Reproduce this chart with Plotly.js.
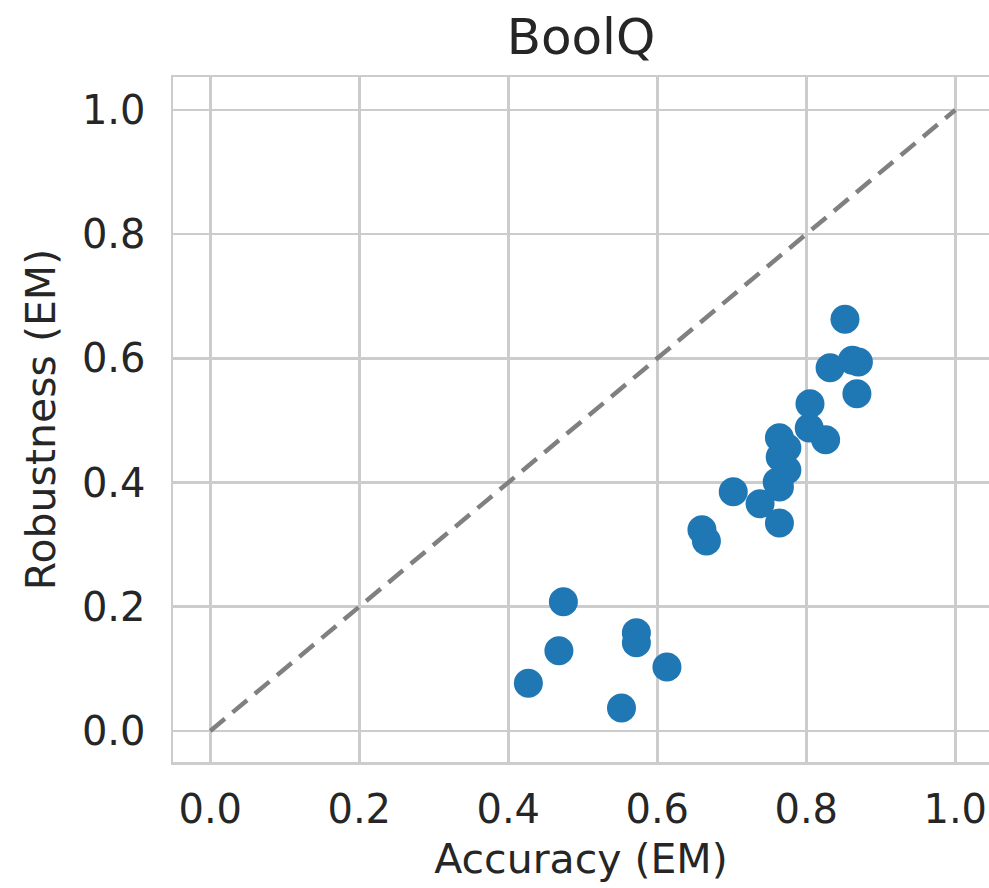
<!DOCTYPE html>
<html>
<head>
<meta charset="utf-8">
<script src="https://cdn.plot.ly/plotly-3.0.1.min.js"></script>
<style>
  html, body { margin: 0; padding: 0; background: #ffffff; }
  #chart { width: 989px; height: 888px; }
</style>
</head>
<body>
<div id="chart"></div>
<script>
// Data (BoolQ)
const accuracy = [
  0.852, 0.832, 0.862, 0.870, 0.868, 0.805, 0.804, 0.826, 0.764, 0.774,
  0.765, 0.774, 0.761, 0.764, 0.702, 0.738, 0.764, 0.660, 0.666,
  0.474, 0.468, 0.427, 0.572, 0.572, 0.613, 0.552
];
const robustness = [
  0.663, 0.585, 0.597, 0.594, 0.543, 0.527, 0.488, 0.469, 0.472, 0.456,
  0.441, 0.420, 0.401, 0.393, 0.385, 0.366, 0.335, 0.324, 0.306,
  0.208, 0.129, 0.077, 0.158, 0.142, 0.103, 0.037
];
const diagX = [0, 1];
const diagY = [0, 1];
const tickVals = [0.0, 0.2, 0.4, 0.6, 0.8, 1.0];
const tickText = ["0.0", "0.2", "0.4", "0.6", "0.8", "1.0"];

const fontFamily = "DejaVu Sans, sans-serif";
const textColor = "#262626";
const gridColor = "#cccccc";

const traces = [
  {
    x: diagX, y: diagY,
    mode: "lines",
    type: "scatter",
    line: { color: "#808080", width: 4.5, dash: "19px,10px" },
    hoverinfo: "skip",
    showlegend: false
  },
  {
    x: accuracy, y: robustness,
    mode: "markers",
    type: "scatter",
    marker: { color: "#1f77b4", size: 29, line: { width: 0 } },
    showlegend: false
  }
];

const layout = {
  width: 989,
  height: 888,
  margin: { l: 173, r: 0, t: 77, b: 126, pad: 0 },
  paper_bgcolor: "#ffffff",
  plot_bgcolor: "#ffffff",
  font: { family: fontFamily, color: textColor },
  showlegend: false,
  title: {
    text: "BoolQ",
    font: { family: fontFamily, size: 50, color: textColor },
    xref: "paper", x: 0.5, xanchor: "center",
    yref: "container", y: 1 - 36 / 888, yanchor: "middle"
  },
  xaxis: {
    range: [-0.05, 1.0453],
    tickvals: tickVals, ticktext: tickText,
    ticks: "outside", ticklen: 10, tickcolor: "rgba(0,0,0,0)",
    tickfont: { family: fontFamily, size: 40, color: textColor },
    showgrid: true, gridcolor: gridColor, gridwidth: 2.5,
    zeroline: false,
    showline: true, linecolor: gridColor, linewidth: 2.5, mirror: true,
    title: { text: "Accuracy (EM)", font: { family: fontFamily, size: 41, color: textColor }, standoff: 14 },
    automargin: false
  },
  yaxis: {
    range: [-0.05, 1.053],
    tickvals: tickVals, ticktext: tickText,
    ticks: "outside", ticklen: 17, tickcolor: "rgba(0,0,0,0)",
    tickfont: { family: fontFamily, size: 40, color: textColor },
    showgrid: true, gridcolor: gridColor, gridwidth: 2.5,
    zeroline: false,
    showline: true, linecolor: gridColor, linewidth: 2.5, mirror: false,
    title: { text: "Robustness (EM)", font: { family: fontFamily, size: 41, color: textColor }, standoff: 14 },
    automargin: false
  }
};

Plotly.newPlot("chart", traces, layout, { displayModeBar: false, staticPlot: true });
</script>
</body>
</html>
